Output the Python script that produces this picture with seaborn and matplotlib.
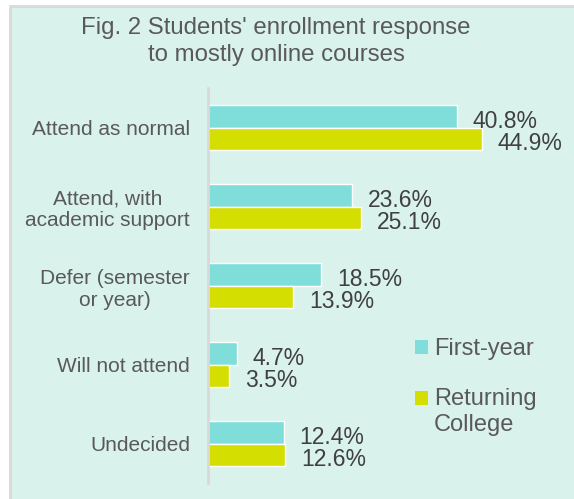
import matplotlib
matplotlib.use("Agg")
import matplotlib.pyplot as plt
from matplotlib.patches import Rectangle, Patch
from matplotlib.legend_handler import HandlerPatch
import seaborn as sns
import pandas as pd

categories = ["Attend as normal", "Attend, with\nacademic support", "Defer (semester\nor year)",
              "Will not attend", "Undecided"]
first_year = [40.8, 23.6, 18.5, 4.7, 12.4]
returning = [44.9, 25.1, 13.9, 3.5, 12.6]
series = ["First-year", "Returning College"]
legend_labels = ["First-year", "Returning\nCollege"]
colors = ["#7fded9", "#d4de00"]

df = pd.DataFrame({
    "category": categories * 2,
    "value": first_year + returning,
    "series": [series[0]] * len(categories) + [series[1]] * len(categories),
})

sns.set_theme(style="white")
plt.rcParams["font.family"] = ["Liberation Sans", "DejaVu Sans"]

BG = "#daf2ec"
fig = plt.figure(figsize=(5.74, 4.99), dpi=100)
fig.patch.set_facecolor("white")
fig.patches.append(Rectangle((10 / 574, -0.05), 1.1, 1 - 6 / 499 + 0.05, transform=fig.transFigure,
                             facecolor=BG, edgecolor="#d9d9d9", linewidth=2, zorder=-5))

ax = fig.add_axes([208 / 574, 1 - 483 / 499, 1 - 208 / 574, 395 / 499])
ax.set_facecolor("none")
sns.barplot(data=df, y="category", x="value", hue="series", orient="h", palette=colors,
            width=0.57, ax=ax, legend=False, saturation=1)

ax.set_xlim(0, 60)
ax.set_ylim(4.5, -0.5)
ax.set_xlabel("")
ax.set_ylabel("")
ax.set_xticks([])
for s in ["top", "right", "bottom"]:
    ax.spines[s].set_visible(False)
ax.spines["left"].set_color("#d9d9d9")
ax.spines["left"].set_linewidth(2)
ax.tick_params(axis="y", length=0, pad=13, labelsize=15, labelcolor="#595959")
for t in ax.get_yticklabels():
    t.set_multialignment("center")

for cont, vals in zip(ax.containers, [first_year, returning]):
    anns = ax.bar_label(cont, labels=[f"{v}%" for v in vals], padding=11.5, fontsize=16.5, color="#404040")
    for a in anns:
        a.xyann = (11.5, -3.6)


class UpHandler(HandlerPatch):
    def __init__(self, shift, **kw):
        super().__init__(**kw)
        self.shift = shift

    def _create_patch(self, legend, orig_handle, xdescent, ydescent, width, height, fontsize):
        return Rectangle((-xdescent, -ydescent + self.shift), width, height)


handles = [Patch(facecolor=c, edgecolor="none") for c in colors]
leg = ax.legend(handles, legend_labels, loc="upper left", bbox_to_anchor=(415 / 574, 1 - 338 / 499),
                bbox_transform=fig.transFigure, frameon=False, fontsize=17, labelcolor="#595959",
                handlelength=0.55, handleheight=0.55, handletextpad=0.25, labelspacing=1.2, borderpad=0,
                borderaxespad=0, handler_map={handles[1]: UpHandler(10.2)})

fig.text(276 / 574, 1 - 41.5 / 499, "Fig. 2 Students' enrollment response\nto mostly online courses",
         ha="center", va="center", fontsize=17.3, color="#595959", linespacing=1.35)

fig.savefig("out.png", dpi=100, facecolor=fig.get_facecolor())
